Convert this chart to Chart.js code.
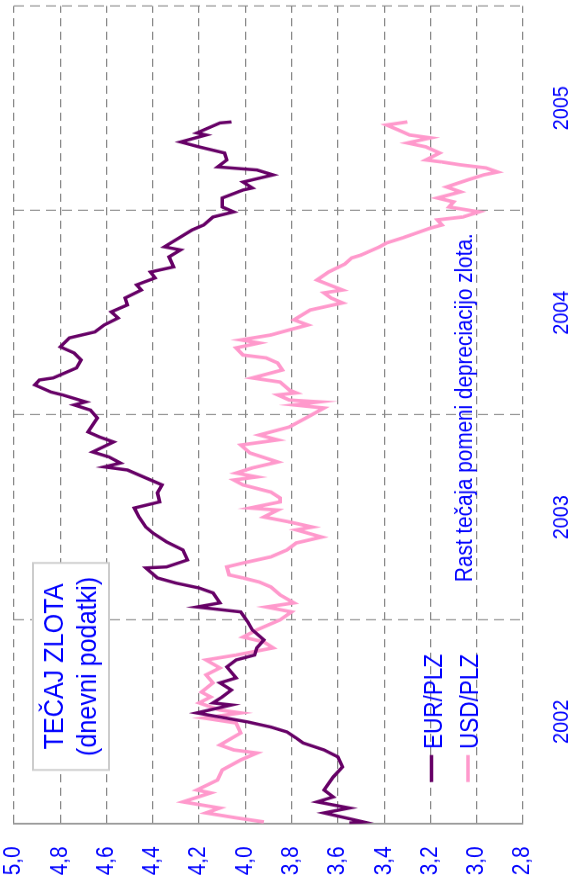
<!DOCTYPE html>
<html><head><meta charset="utf-8">
<script src="https://cdn.jsdelivr.net/npm/chart.js@4.4.0/dist/chart.umd.min.js"></script>
<style>
html,body{margin:0;padding:0;background:#fff;overflow:hidden;width:575px;height:884px;}
#wrap{position:absolute;left:0;top:0;width:982px;height:575px;transform-origin:0 0;transform:translate(0,884px) rotate(-90deg) scale(0.9,1);}
</style></head><body>
<div id="wrap"><canvas id="c" width="982" height="575"></canvas></div>
<script>
const yearLabels = ['2002','2003','2004','2005'];
const valueTicks = [2.8,3.0,3.2,3.4,3.6,3.8,4.0,4.2,4.4,4.6,4.8,5.0];
const seriesNames = ['EUR/PLZ','USD/PLZ'];
const titleLines = ['TEČAJ ZLOTA','(dnevni podatki)'];
const noteText = 'Rast tečaja pomeni depreciacijo zlota.';

const eurT = [2002.005,2002.010,2002.054,2002.078,2002.108,2002.132,2002.166,2002.230,2002.279,2002.328,2002.362,2002.396,2002.420,2002.450,2002.474,2002.499,2002.523,2002.543,2002.582,2002.592,2002.621,2002.655,2002.690,2002.714,2002.768,2002.802,2002.826,2002.861,2002.900,2002.949,2002.988,2003.037,2003.061,2003.081,2003.130,2003.154,2003.178,2003.203,2003.252,2003.257,2003.291,2003.340,2003.379,2003.423,2003.452,2003.501,2003.545,2003.575,2003.619,2003.658,2003.692,2003.731,2003.746,2003.765,2003.795,2003.819,2003.868,2003.892,2003.917,2003.985,2004.024,2004.049,2004.064,2004.098,2004.112,2004.147,2004.171,2004.181,2004.230,2004.269,2004.303,2004.333,2004.377,2004.406,2004.440,2004.474,2004.504,2004.538,2004.572,2004.611,2004.636,2004.670,2004.699,2004.709,2004.724,2004.773,2004.807,2004.822,2004.870,2004.905,2004.929,2004.968,2004.993,2005.017,2005.061,2005.100,2005.110,2005.139,2005.174,2005.198,2005.213,2005.247,2005.281,2005.311,2005.335,2005.369,2005.379,2005.428,2005.433];
const eurV = [3.55,3.49,3.66,3.55,3.69,3.62,3.66,3.62,3.58,3.60,3.66,3.75,3.78,3.82,3.89,3.99,4.11,4.21,4.06,4.14,4.10,4.06,4.11,4.04,4.08,4.04,3.96,3.95,3.92,3.97,3.99,4.02,4.21,4.11,4.14,4.20,4.30,4.38,4.43,4.34,4.25,4.27,4.34,4.40,4.43,4.46,4.48,4.37,4.38,4.36,4.43,4.51,4.61,4.54,4.59,4.66,4.57,4.63,4.68,4.64,4.67,4.74,4.69,4.79,4.84,4.91,4.89,4.83,4.73,4.71,4.74,4.80,4.76,4.65,4.61,4.55,4.58,4.51,4.52,4.45,4.47,4.39,4.41,4.37,4.31,4.33,4.28,4.35,4.28,4.23,4.18,4.14,4.05,4.10,4.10,4.01,3.97,4.01,3.88,3.95,4.12,4.08,4.09,4.20,4.28,4.17,4.21,4.11,4.06];

const usdT = [2002.010,2002.030,2002.054,2002.078,2002.108,2002.152,2002.166,2002.215,2002.264,2002.313,2002.347,2002.362,2002.386,2002.445,2002.494,2002.518,2002.543,2002.557,2002.592,2002.621,2002.645,2002.690,2002.729,2002.763,2002.802,2002.826,2002.861,2002.890,2002.914,2002.949,2002.998,2003.037,2003.061,2003.081,2003.120,2003.159,2003.183,2003.203,2003.218,2003.257,2003.276,2003.306,2003.340,2003.374,2003.403,2003.438,2003.452,2003.477,2003.501,2003.535,2003.545,2003.575,2003.594,2003.623,2003.658,2003.682,2003.697,2003.716,2003.741,2003.770,2003.814,2003.853,2003.878,2003.902,2003.941,2003.990,2004.034,2004.049,2004.064,2004.073,2004.098,2004.108,2004.122,2004.161,2004.181,2004.220,2004.254,2004.279,2004.293,2004.328,2004.352,2004.367,2004.391,2004.416,2004.440,2004.465,2004.513,2004.548,2004.572,2004.597,2004.611,2004.660,2004.699,2004.738,2004.768,2004.782,2004.797,2004.822,2004.841,2004.866,2004.890,2004.914,2004.929,2004.954,2004.968,2004.993,2005.017,2005.042,2005.061,2005.091,2005.115,2005.149,2005.174,2005.188,2005.208,2005.223,2005.237,2005.247,2005.281,2005.311,2005.330,2005.355,2005.369,2005.394,2005.418,2005.433];
const usdV = [3.92,4.04,4.17,4.11,4.27,4.15,4.21,4.12,4.10,4.02,3.95,4.05,4.11,4.02,4.04,4.18,4.02,4.11,4.20,4.15,4.19,4.14,4.17,4.11,4.17,4.04,3.88,3.92,4.01,3.95,3.85,3.80,3.91,3.79,3.85,3.89,3.94,4.01,4.07,4.08,4.01,3.89,3.82,3.78,3.67,3.78,3.71,3.81,3.92,3.86,3.98,3.85,3.85,3.89,4.01,4.05,3.95,4.04,3.97,3.86,3.98,4.02,3.86,3.94,3.81,3.73,3.66,3.79,3.68,3.81,3.86,3.78,3.81,3.85,3.97,3.84,3.86,3.91,4.01,4.04,3.94,4.02,3.89,3.81,3.73,3.79,3.72,3.58,3.63,3.66,3.58,3.69,3.64,3.57,3.54,3.50,3.47,3.42,3.39,3.32,3.26,3.20,3.15,3.17,3.06,2.99,3.12,3.10,3.17,3.07,3.13,3.04,2.97,2.91,2.96,3.07,3.15,3.22,3.16,3.22,3.30,3.20,3.29,3.34,3.39,3.30];

const EUR_COLOR = '#660066';
const USD_COLOR = '#FF99CC';
const TEXT_BLUE = '#0000FF';
const FONT = '"Liberation Sans", Arial, sans-serif';
const NONE = 'rgba(0,0,0,0)';

const toPts = (ts, vs) => ts.map((t, i) => ({x: t, y: vs[i]}));

const overlay = {
  id: 'overlay',
  afterDraw(chart) {
    const ctx = chart.ctx;
    ctx.save();
    // title box
    ctx.fillStyle = '#fff';
    ctx.fillRect(126.7, 33, 230, 76);
    ctx.strokeStyle = '#cccccc';
    ctx.lineWidth = 2;
    ctx.strokeRect(126.7, 33, 230, 76);
    ctx.fillStyle = TEXT_BLUE;
    ctx.textAlign = 'center';
    ctx.textBaseline = 'alphabetic';
    ctx.font = '28px ' + FONT;
    ctx.fillText(titleLines[0], 241.7, 63);
    ctx.fillText(titleLines[1], 241.7, 96);
    // note
    ctx.textAlign = 'left';
    ctx.font = '23px ' + FONT;
    ctx.fillText(noteText, 335.6, 472);
    // legend
    const items = [{c: EUR_COLOR, y: 431.5, b: 442}, {c: USD_COLOR, y: 468, b: 478}];
    ctx.font = '25px ' + FONT;
    items.forEach((it, i) => {
      ctx.strokeStyle = it.c;
      ctx.lineWidth = 3.5;
      ctx.beginPath();
      ctx.moveTo(113.3, it.y);
      ctx.lineTo(143.3, it.y);
      ctx.stroke();
      ctx.fillStyle = TEXT_BLUE;
      ctx.fillText(seriesNames[i], 150, it.b);
    });
    ctx.restore();
  }
};

new Chart(document.getElementById('c'), {
  type: 'line',
  data: {
    datasets: [
      {label: seriesNames[0], data: toPts(eurT, eurV), borderColor: EUR_COLOR, borderWidth: 3.5, pointRadius: 0, tension: 0},
      {label: seriesNames[1], data: toPts(usdT, usdV), borderColor: USD_COLOR, borderWidth: 3.8, pointRadius: 0, tension: 0}
    ]
  },
  options: {
    responsive: false,
    animation: false,
    events: [],
    layout: {padding: {left: 0, right: 6.4, top: 14, bottom: 0}},
    plugins: {legend: {display: false}, tooltip: {enabled: false}, title: {display: false}},
    scales: {
      x: {
        type: 'linear', min: 2002, max: 2006,
        afterBuildTicks: s => {
          const t = [];
          yearLabels.forEach((y, i) => { t.push({value: 2002 + i}); t.push({value: 2002.5 + i}); });
          t.push({value: 2006});
          s.ticks = t;
        },
        afterFit: s => { s.height = 52; },
        ticks: {
          autoSkip: false, maxRotation: 0, minRotation: 0, padding: 0,
          color: TEXT_BLUE, font: {family: FONT, size: 22},
          callback: (v) => {
            const i = Math.round(v - 2002.5);
            return (Math.abs(v - 2002.5 - i) < 1e-6 && yearLabels[i]) ? yearLabels[i] : '';
          }
        },
        grid: {
          drawTicks: true, tickLength: 26, tickColor: NONE, lineWidth: 1.2,
          color: c => (c.tick && Math.abs(c.tick.value - Math.round(c.tick.value)) < 1e-6 && c.tick.value > 2002) ? '#888888' : NONE
        },
        border: {display: false, dash: [10, 6]}
      },
      y: {
        type: 'linear', min: 2.8, max: 5.0,
        afterBuildTicks: s => { s.ticks = valueTicks.map(v => ({value: v})); },
        afterFit: s => { s.width = 66.7; },
        ticks: {
          autoSkip: false, padding: 0, color: TEXT_BLUE, font: {family: FONT, size: 23},
          callback: v => v.toFixed(1).replace('.', ',')
        },
        grid: {drawTicks: true, tickLength: 25, tickColor: NONE, color: '#888888', lineWidth: 1.2},
        border: {display: true, color: '#999999', width: 2, dash: [9, 6]}
      }
    }
  },
  plugins: [overlay]
});
</script>
</body></html>
